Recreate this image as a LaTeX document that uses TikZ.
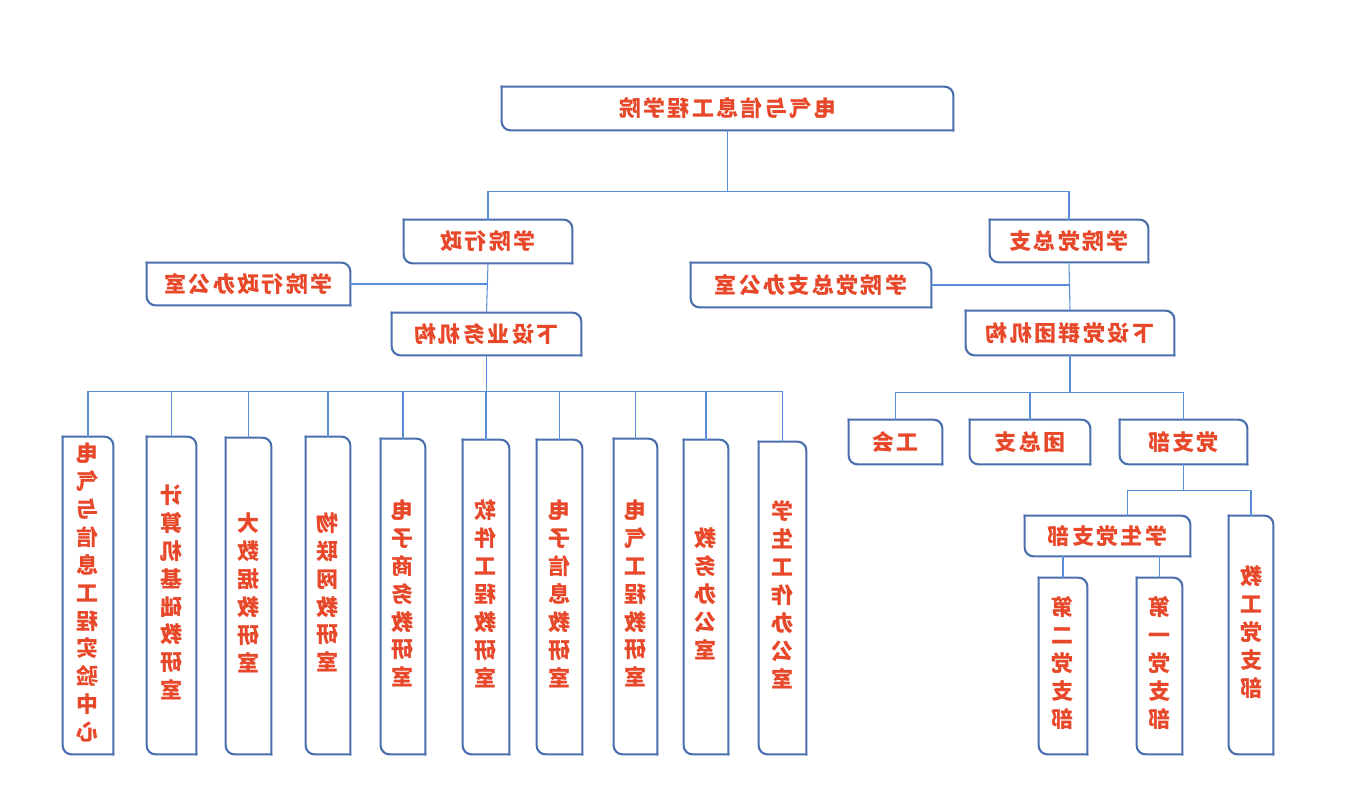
\documentclass[tikz,border=0pt]{standalone}
\usepackage{fontspec}
\newfontfamily\cjk[LetterSpace=11]{Noto Sans CJK SC}
\newfontfamily\cjkv{Noto Sans CJK SC}
\definecolor{boxblue}{HTML}{4A6FAE}
\definecolor{linkblue}{HTML}{5B8ED8}
\definecolor{txtred}{HTML}{E8482A}
% mirrored labels, as in the picture
\newcommand{\mir}[1]{\reflectbox{\cjk\bfseries #1}}
\newcommand{\vmir}[1]{\reflectbox{\cjkv\bfseries\fontsize{12.5}{15.9}\selectfont
  \begin{tabular}{@{}c@{}}#1\end{tabular}}}
\tikzset{
  box/.style 2 args={inner sep=0pt, text=txtred, font=\fontsize{12.5}{14}\selectfont,
    minimum width=#1*0.02cm, minimum height=#2*0.02cm},
  link/.style={draw=linkblue, line width=0.6pt},
  frame/.style={draw=boxblue, line width=1.2pt, line cap=rect, rounded corners=5pt}
}
\begin{document}
\begin{tikzpicture}[x=0.02cm, y=-0.02cm]
	\useasboundingbox (0,0) rectangle (1355,790);
	% top and the two branches
	\node[box={451}{43}] (top) at (727.5,108.5) {\mir{电气与信息工程学院}};
	\node[box={168}{43}] (xz) at (488,241.5) {\mir{学院行政}};
	\node[box={203}{42}] (xzoffice) at (248.5,284) {\mir{学院行政办公室}};
	\node[box={189}{42}] (yw) at (486.5,334) {\mir{下设业务机构}};
	\node[box={158}{42}] (dzz) at (1069,241) {\mir{学院党总支}};
	\node[box={240}{44}] (dzzoffice) at (811,285) {\mir{学院党总支办公室}};
	\node[box={208}{44}] (dq) at (1070,333) {\mir{下设党群团机构}};
	% party side
	\node[box={93}{44}] (gh) at (895.5,442) {\mir{工会}};
	\node[box={120}{44}] (tzz) at (1030,442) {\mir{团总支}};
	\node[box={127}{44}] (dzb) at (1183.5,442) {\mir{党支部}};
	\node[box={165}{40}] (xsdzb) at (1107.5,536) {\mir{学生党支部}};
	\node[box={44}{238}] (jgdzb) at (1251,635) {\vmir{教\\工\\党\\支\\部}};
	\node[box={48}{176}] (de) at (1063,666) {\vmir{第\\二\\党\\支\\部}};
	\node[box={45}{176}] (dy) at (1159.5,666) {\vmir{第\\一\\党\\支\\部}};
	% offices under yw
	\node[box={50}{317}] (r1) at (88,595.5) {\vmir{电\\气\\与\\信\\息\\工\\程\\实\\验\\中\\心}};
	\node[box={49}{317}] (r2) at (171.5,595.5) {\vmir{计\\算\\机\\基\\础\\教\\研\\室}};
	\node[box={45}{316}] (r3) at (248.5,596) {\vmir{大\\数\\据\\教\\研\\室}};
	\node[box={44}{317}] (r4) at (328,595.5) {\vmir{物\\联\\网\\教\\研\\室}};
	\node[box={44}{315}] (r5) at (403,596.5) {\vmir{电\\子\\商\\务\\教\\研\\室}};
	\node[box={46}{314}] (r6) at (486,597) {\vmir{软\\件\\工\\程\\教\\研\\室}};
	\node[box={45}{314}] (r7) at (559.5,597) {\vmir{电\\子\\信\\息\\教\\研\\室}};
	\node[box={43}{315}] (r8) at (635.5,596.5) {\vmir{电\\气\\工\\程\\教\\研\\室}};
	\node[box={44}{314}] (r9) at (706,597) {\vmir{教\\务\\办\\公\\室}};
	\node[box={47}{312}] (r10) at (782.5,598) {\vmir{学\\生\\工\\作\\办\\公\\室}};
	% frames: round top right and bottom left
	\foreach \n in {top,xz,xzoffice,yw,dzz,dzzoffice,dq,gh,tzz,dzb,xsdzb,jgdzb,de,dy,r1,r2,r3,r4,r5,r6,r7,r8,r9,r10} {
		\draw[frame] (\n.north west) -- (\n.north east) -- (\n.south east);
		\draw[frame] (\n.south east) -- (\n.south west) -- (\n.north west);
	}
	% connectors
	\draw[link] (top.south) -- ++(0,61) -| (xz.north);
	\draw[link] (top.south) -- ++(0,61) -| (dzz.north);
	\draw[link] (xz.south) -- (yw.north);
	\draw[link] (xzoffice.east) -- (xzoffice.east -| yw.north);
	\foreach \i in {1,...,10}
		\draw[link] (yw.south) -- ++(0,36) -| (r\i.north);
	\draw[link] (dzz.south) -- (dq.north);
	\draw[link] (dzzoffice.east) -- (dzzoffice.east -| dq.north);
	\foreach \n in {gh,tzz,dzb}
		\draw[link] (dq.south) -- ++(0,37) -| (\n.north);
	\draw[link] (dzb.south) -- ++(0,26) -| ([xshift=0.4cm]xsdzb.north);
	\draw[link] (dzb.south) -- ++(0,26) -| (jgdzb.north);
	\draw[link] (de.north) -- (de.north |- xsdzb.south);
	\draw[link] (dy.north) -- (dy.north |- xsdzb.south);
\end{tikzpicture}
\end{document}
